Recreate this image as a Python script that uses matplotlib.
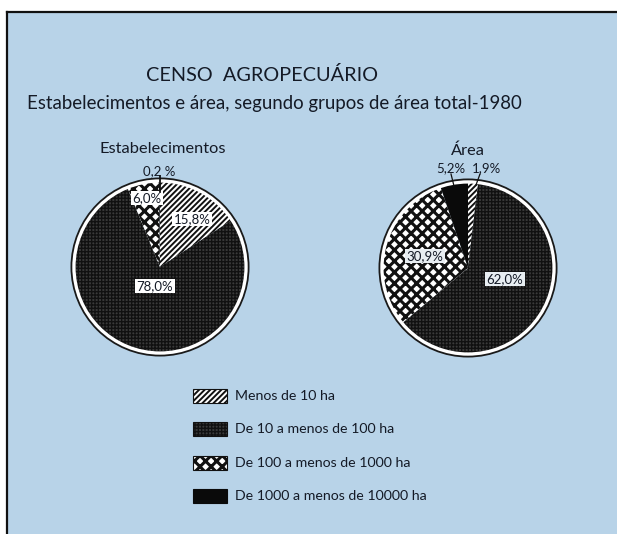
import matplotlib
matplotlib.use("Agg")
import matplotlib.pyplot as plt
from matplotlib.patches import Rectangle, Circle

# ---- data ----
categories = ["Menos de 10 ha", "De 10 a menos de 100 ha",
              "De 100 a menos de 1000 ha", "De 1000 a menos de 10000 ha"]
estab_values = [15.8, 78.0, 6.0, 0.2]
area_values = [1.9, 62.0, 30.9, 5.2]
estab_labels = ["15,8%", "78,0%", "6,0%", "0,2 %"]
area_labels = ["1,9%", "62,0%", "30,9%", "5,2%"]
title = "CENSO  AGROPECUÁRIO"
subtitle = "Estabelecimentos e área, segundo grupos de área total-1980"
pie_titles = ["Estabelecimentos", "Área"]

# styles
faces = ["white", "#3a3a3a", "white", "#0a0a0a"]
hatches = ["//////", "+++++", "xxx", None]
hatch_lw = [1.4, 1.0, 2.2, 1.0]
hatch_colors = ["#111111", "#111111", "#111111", "#0a0a0a"]

BG = "#b8d3e8"
TXT = "#141a26"
W, H = 617, 534
plt.rcParams["font.family"] = ["Lato", "DejaVu Sans"]
plt.rcParams["hatch.linewidth"] = 1.2

fig = plt.figure(figsize=(W / 100, H / 100), dpi=100)
fig.patch.set_facecolor("white")
ax = fig.add_axes([0, 0, 1, 1])
ax.set_axis_off()


def Y(y):
    return H - y


def set_hlw(p, lw):
    if hasattr(p, "set_hatch_linewidth"):
        p.set_hatch_linewidth(lw)


# panel background
ax.add_patch(Rectangle((7, 0), W - 7, H - 12, facecolor=BG, edgecolor="none", zorder=0))
ax.plot([7, 7], [0, Y(12)], color="#111111", lw=1.6, zorder=1)
ax.plot([7, W], [Y(12), Y(12)], color="#111111", lw=1.6, zorder=1)

ax.text(262, Y(75), title, ha="center", va="center", fontsize=14.3, color=TXT)
ax.text(274, Y(104), subtitle, ha="center", va="center", fontsize=13.4, color=TXT)

R = 86
centers = [(160, 267), (468, 268)]
datasets = [estab_values, area_values]

for (cx, cy), vals in zip(centers, datasets):
    wedges, _ = ax.pie(vals, center=(cx, Y(cy)), radius=R, startangle=90,
                       counterclock=False,
                       wedgeprops=dict(linewidth=0))
    for w, fc, hc, hh, hl in zip(wedges, faces, hatch_colors, hatches, hatch_lw):
        w.set_facecolor(fc)
        w.set_edgecolor(hc)
        w.set_linewidth(0)
        if hh:
            w.set_hatch(hh)
            set_hlw(w, hl)
    ax.add_patch(Circle((cx, Y(cy)), R + 0.5, fill=False, edgecolor="white", lw=3.0, zorder=3))
    ax.add_patch(Circle((cx, Y(cy)), R + 2.6, fill=False, edgecolor="#1a1a1a", lw=1.3, zorder=3))

ax.set_xlim(0, W)
ax.set_ylim(0, H)
ax.set_aspect("auto")

# pie titles
ax.text(163, Y(149), pie_titles[0], ha="center", va="center", fontsize=11.8, color=TXT)
ax.text(468, Y(151), pie_titles[1], ha="center", va="center", fontsize=11.8, color=TXT)

box = dict(boxstyle="square,pad=0.1", facecolor="white", edgecolor="none")
box2 = dict(boxstyle="square,pad=0.1", facecolor="#e8eef2", edgecolor="none")
lab_fs = 9.5
# Estabelecimentos labels
ax.text(192, Y(219), estab_labels[0], ha="center", va="center", fontsize=lab_fs, color=TXT, bbox=box, zorder=5)
ax.text(155, Y(286), estab_labels[1], ha="center", va="center", fontsize=lab_fs, color=TXT, bbox=box, zorder=5)
ax.text(147, Y(198), estab_labels[2], ha="center", va="center", fontsize=lab_fs, color=TXT, bbox=box, zorder=5)
ax.text(159, Y(171), estab_labels[3], ha="center", va="center", fontsize=lab_fs, color=TXT, zorder=5)
ax.plot([160, 160], [Y(176), Y(192)], color="#111111", lw=1.3, zorder=5)

# Área labels
ax.text(486, Y(168), area_labels[0], ha="center", va="center", fontsize=lab_fs, color=TXT, zorder=5)
ax.text(505, Y(279), area_labels[1], ha="center", va="center", fontsize=lab_fs, color=TXT, bbox=box2, zorder=5)
ax.text(425, Y(256), area_labels[2], ha="center", va="center", fontsize=lab_fs, color=TXT, bbox=box2, zorder=5)
ax.text(451, Y(168), area_labels[3], ha="center", va="center", fontsize=lab_fs, color=TXT, zorder=5)
ax.plot([480, 476], [Y(174), Y(185)], color="#111111", lw=0.9, zorder=5)
ax.plot([451, 454], [Y(174), Y(186)], color="#111111", lw=0.9, zorder=5)

# legend
leg_y = [396, 429, 463, 496]
for cat, fc, hc, hh, hl, ly in zip(categories, faces, hatch_colors, hatches, hatch_lw, leg_y):
    r = Rectangle((193, Y(ly) - 7), 34, 14, facecolor=fc, edgecolor=hc,
                  hatch=hh, lw=0.8, zorder=4)
    set_hlw(r, hl)
    ax.add_patch(r)
    ax.text(235, Y(ly), cat, ha="left", va="center", fontsize=10.2, color=TXT)

fig.savefig("out.png", dpi=100, facecolor=fig.get_facecolor())
